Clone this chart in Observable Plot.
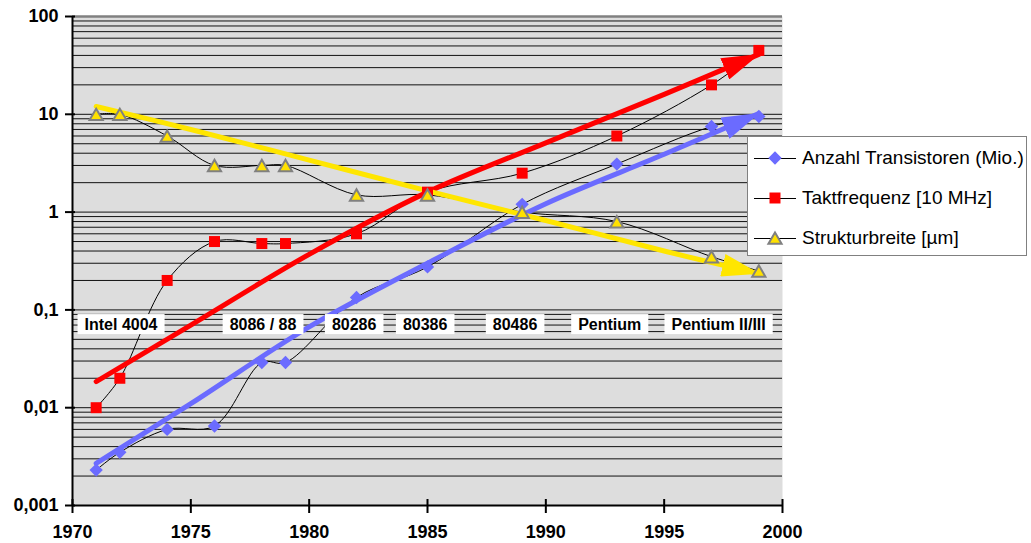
<!DOCTYPE html>
<html>
<head>
<meta charset="utf-8">
<script src="https://cdn.jsdelivr.net/npm/d3@7"></script>
<script src="https://cdn.jsdelivr.net/npm/@observablehq/plot@0.6"></script>
<style>
  body { margin: 0; background: #fff; font-family: "Liberation Sans", Arial, sans-serif; }
  #wrap { position: relative; width: 1031px; height: 543px; }
  #legend { position: absolute; left: 747px; top: 136px; width: 280px; height: 120px; box-sizing: border-box;
            border: 1px solid #808080; background: #fff; }
  .entry { position: absolute; left: 5px; height: 24px; display: flex; align-items: center; }
  .entry span { font-size: 19px; color: #000; margin-left: 5px; white-space: nowrap; }
</style>
</head>
<body>
<div id="wrap"><div id="legend"></div></div>
<script>
// Intel-Prozessoren 1971–1999: Messwerte je Erscheinungsjahr
const years = [1971, 1972, 1974, 1976, 1978, 1979, 1982, 1985, 1989, 1993, 1997, 1999];
const transistors = [0.0023, 0.0035, 0.006, 0.0065, 0.029, 0.029, 0.134, 0.275, 1.2, 3.1, 7.5, 9.5];
const clockRate = [0.01, 0.02, 0.2, 0.5, 0.477, 0.477, 0.6, 1.6, 2.5, 6, 20, 45];
const featureSize = [10, 10, 6, 3, 3, 3, 1.5, 1.5, 1, 0.8, 0.35, 0.25];

// Trendlinien (Pfeile)
const trendYears = [1971, 1975, 1980, 1985, 1990, 1995, 1999];
const trendTransistors = [0.0027, 0.011, 0.067, 0.30, 1.22, 3.9, 10.2];
const trendClock = [0.0185, 0.07, 0.37, 1.6, 5.1, 16, 41];
const trendFeature = [12, 7.0, 3.4, 1.65, 0.82, 0.40, 0.235];

// Prozessorgenerationen
const cpuNames = ["Intel 4004", "8086 / 88", "80286", "80386", "80486", "Pentium", "Pentium II/III"];
const cpuYears = [1972.05, 1978.05, 1981.9, 1984.9, 1988.7, 1992.7, 1997.3];
const cpuLevel = 0.071;

// Achsen
const xTicks = [1970, 1975, 1980, 1985, 1990, 1995, 2000];
const yTicks = [0.001, 0.01, 0.1, 1, 10, 100];
const yTickLabels = ["0,001", "0,01", "0,1", "1", "10", "100"];

const seriesNames = ["Anzahl Transistoren (Mio.)", "Taktfrequenz [10 MHz]", "Strukturbreite [µm]"];
const seriesColors = ["#6b6bff", "#ff0000", "#ffe100"];
const trendColors = ["#6b6bff", "#ff0000", "#ffe600"];

const seriesValues = [transistors, clockRate, featureSize];
const trendValues = [trendTransistors, trendClock, trendFeature];

const rows = seriesNames.flatMap((name, s) =>
  years.map((year, i) => ({series: name, year, value: seriesValues[s][i]})));
const trendRows = seriesNames.flatMap((name, s) =>
  trendYears.map((year, i) => ({series: name, year, value: trendValues[s][i]})));
const cpuRows = cpuNames.map((name, i) => ({name, year: cpuYears[i]}));

// logarithmic grid: 1..9 per decade
const gridValues = d3.range(-3, 2).flatMap(e => d3.range(1, 10).map(k => +(k * 10 ** e).toPrecision(3))).filter(v => v > 0.001);

// filled arrowhead marker
function arrowHead(color) {
  const m = d3.create("svg:marker")
    .attr("viewBox", "0 -11.5 38 23")
    .attr("markerWidth", 38).attr("markerHeight", 23)
    .attr("markerUnits", "userSpaceOnUse")
    .attr("refX", 37).attr("refY", 0)
    .attr("orient", "auto");
  m.append("path").attr("d", "M0,-11.5L38,0L0,11.5Z").attr("fill", color).attr("stroke", "none");
  return m.node();
}

const symbols = ["diamond2", "square", "triangle"];
const sizes = [6.0, 6.2, 4.9];
const dys = [0, 0, 2];

const bySeries = (s, data) => data.filter(d => d.series === seriesNames[s]);

const chart = Plot.plot({
  width: 1031,
  height: 543,
  marginLeft: 72,
  marginRight: 249,
  marginTop: 16,
  marginBottom: 38,
  style: {fontFamily: "'Liberation Sans', Arial, sans-serif", background: "transparent", color: "#000"},
  x: {domain: [1970, 2000]},
  y: {type: "log", domain: [0.001, 100]},
  marks: [
    Plot.frame({fill: "#dddddd", stroke: "none"}),
    Plot.ruleY(gridValues, {stroke: "#111", strokeWidth: 1}),
    Plot.ruleY([100], {stroke: "#808080", strokeWidth: 2.5}),
    Plot.ruleX([1970], {stroke: "#000", strokeWidth: 2}),
    Plot.ruleY([0.001], {stroke: "#000", strokeWidth: 2}),
    Plot.axisY({ticks: yTicks, tickFormat: d => yTickLabels[yTicks.indexOf(d)], tickSize: 10, dx: 3,
                tickPadding: 7, label: null, fontSize: 18, fontWeight: "bold", strokeWidth: 2}),
    Plot.axisX({ticks: xTicks, tickFormat: d => String(d), tickSize: 14, dy: -6, tickPadding: 12,
                label: null, fontSize: 18, fontWeight: "bold", strokeWidth: 2}),
    // verbindende Linien der Messwerte
    Plot.line(rows, {x: "year", y: "value", z: "series", stroke: "#000", strokeWidth: 1, curve: "catmull-rom"}),
    // Trendpfeile
    ...seriesNames.map((n, s) =>
      Plot.line(bySeries(s, trendRows), {x: "year", y: "value", stroke: trendColors[s], strokeWidth: 5,
        curve: "catmull-rom", markerEnd: arrowHead})),
    // Messpunkte
    ...seriesNames.map((n, s) =>
      Plot.dot(bySeries(s, rows), {x: "year", y: "value", symbol: symbols[s], r: sizes[s], dy: dys[s],
        fill: seriesColors[s], stroke: s === 2 ? "#808080" : "none", strokeWidth: 2})),
    // Prozessorbezeichnungen
    Plot.text(cpuRows, {x: "year", y: () => cpuLevel, text: "name", fontSize: 16, fontWeight: "bold",
      fill: "#000", ariaDescription: "cpu-labels"})
  ]
});

document.getElementById("wrap").prepend(chart);
chart.style.position = "absolute";
chart.style.left = "0";
chart.style.top = "0";

// white boxes behind the processor names
const labelGroup = chart.querySelector('g[aria-description="cpu-labels"]') || chart.querySelector('g[aria-label="text"]');
if (labelGroup) {
  labelGroup.querySelectorAll("text").forEach(t => {
    const b = t.getBBox();
    const r = document.createElementNS("http://www.w3.org/2000/svg", "rect");
    r.setAttribute("x", b.x - 7);
    r.setAttribute("y", b.y - 1.5);
    r.setAttribute("width", b.width + 14);
    r.setAttribute("height", b.height + 3);
    r.setAttribute("fill", "#fff");
    if (t.getAttribute("transform")) r.setAttribute("transform", t.getAttribute("transform"));
    labelGroup.insertBefore(r, t);
  });
}

// legend
const legend = d3.select("#legend");
const symbolPath = [d3.symbolDiamond2, d3.symbolSquare, d3.symbolTriangle];
seriesNames.forEach((name, s) => {
  const e = legend.append("div").attr("class", "entry").style("top", `${9 + s * 40}px`);
  const svg = e.append("svg").attr("width", 44).attr("height", 24);
  svg.append("line").attr("x1", 1).attr("x2", 43).attr("y1", 12.5).attr("y2", 12.5)
    .attr("stroke", "#000").attr("stroke-width", 1);
  svg.append("path")
    .attr("transform", `translate(22,${12 + dys[s]})`)
    .attr("d", d3.symbol(symbolPath[s], Math.PI * sizes[s] * sizes[s])())
    .attr("fill", seriesColors[s])
    .attr("stroke", s === 2 ? "#808080" : "none")
    .attr("stroke-width", 2);
  e.append("span").text(name);
});
</script>
</body>
</html>
